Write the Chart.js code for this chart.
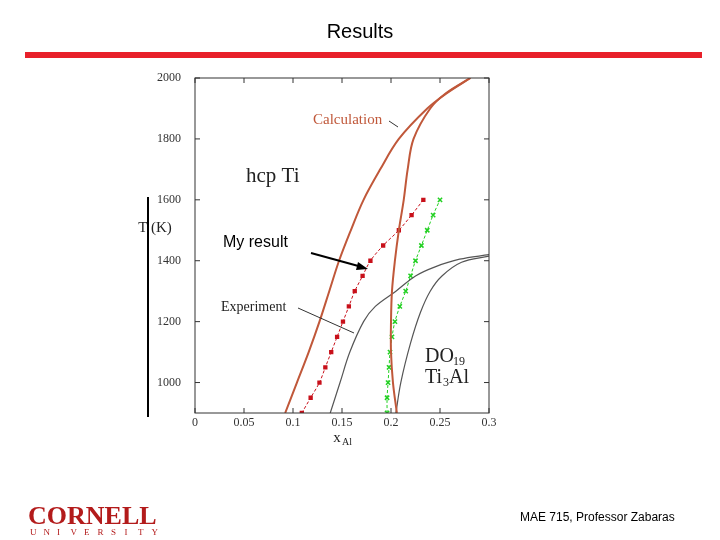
<!DOCTYPE html>
<html><head><meta charset="utf-8">
<script src="https://cdn.jsdelivr.net/npm/chart.js@4"></script>
<style>body{margin:0;background:#fff}#wrap{width:720px;height:540px;position:relative}</style>
</head><body><div id="wrap"><canvas id="c" width="720" height="540"></canvas></div>
<script>
// temperatures (K) and compositions (x_Al)
const calcLeftT = [900, 1000, 1100, 1200, 1300, 1400, 1500, 1600, 1700, 1800, 1900, 1950, 2000];
const calcLeftX = [0.092, 0.104, 0.116, 0.127, 0.137, 0.147, 0.159, 0.172, 0.189, 0.208, 0.237, 0.257, 0.281];
const calcRightT = [900, 1000, 1100, 1200, 1300, 1400, 1500, 1600, 1700, 1800, 1900, 1950, 2000];
const calcRightX = [0.206, 0.202, 0.200, 0.200, 0.201, 0.204, 0.208, 0.213, 0.217, 0.223, 0.240, 0.256, 0.281];
const expAT = [900, 1000, 1100, 1200, 1250, 1300, 1350, 1380, 1405, 1420];
const expAX = [0.138, 0.148, 0.158, 0.172, 0.184, 0.205, 0.225, 0.245, 0.270, 0.300];
const expBT = [900, 1000, 1130, 1230, 1300, 1350, 1395, 1415];
const expBX = [0.205, 0.210, 0.220, 0.230, 0.240, 0.252, 0.272, 0.300];
const myRedT = [900, 950, 1000, 1050, 1100, 1150, 1200, 1250, 1300, 1350, 1400, 1450, 1500, 1550, 1600];
const myRedX = [0.109, 0.118, 0.127, 0.133, 0.139, 0.145, 0.151, 0.157, 0.163, 0.171, 0.179, 0.192, 0.208, 0.221, 0.233];
const myGreenT = [900, 950, 1000, 1050, 1100, 1150, 1200, 1250, 1300, 1350, 1400, 1450, 1500, 1550, 1600];
const myGreenX = [0.196, 0.196, 0.197, 0.198, 0.199, 0.201, 0.204, 0.209, 0.215, 0.220, 0.225, 0.231, 0.237, 0.243, 0.250];
const xTicks = [0, 0.05, 0.1, 0.15, 0.2, 0.25, 0.3];
const yTicks = [1000, 1200, 1400, 1600, 1800, 2000];

const pts = (xs, ts) => xs.map((x, i) => ({x: x, y: ts[i]}));
const brown = '#c0583a';
const serif = '"Liberation Serif", "DejaVu Serif", serif';

function line(xs, ts, color, width) {
  return {data: pts(xs, ts), borderColor: color, borderWidth: width, pointRadius: 0,
    showLine: true, tension: 0.35};
}
function marked(xs, ts, color, style, r) {
  return {data: pts(xs, ts), borderColor: color, backgroundColor: color, borderWidth: 1,
    showLine: true, tension: 0.3, borderDash: [3, 2], pointRadius: r, pointStyle: style,
    pointBorderWidth: 1.5};
}

const slide = {
  id: 'slide',
  afterDraw(chart) {
    const ctx = chart.ctx, a = chart.chartArea;
    const xs = chart.scales.x, ys = chart.scales.y;
    ctx.save();
    // frame and inner ticks
    ctx.strokeStyle = '#333'; ctx.lineWidth = 1;
    ctx.strokeRect(a.left, a.top, a.right - a.left, a.bottom - a.top);
    yTicks.forEach(t => { const y = ys.getPixelForValue(t);
      ctx.beginPath(); ctx.moveTo(a.left, y); ctx.lineTo(a.left + 5, y);
      ctx.moveTo(a.right, y); ctx.lineTo(a.right - 5, y); ctx.stroke(); });
    xTicks.forEach(t => { const x = xs.getPixelForValue(t);
      ctx.beginPath(); ctx.moveTo(x, a.bottom); ctx.lineTo(x, a.bottom - 5);
      ctx.moveTo(x, a.top); ctx.lineTo(x, a.top + 5); ctx.stroke(); });
    // title + red rule
    ctx.fillStyle = '#000'; ctx.textAlign = 'center'; ctx.textBaseline = 'middle';
    ctx.font = '20px "Liberation Sans", Arial, sans-serif';
    ctx.fillText('Results', 360, 32);
    ctx.fillStyle = '#e8202a'; ctx.fillRect(25, 52, 677, 6);
    // axis labels
    ctx.fillStyle = '#222'; ctx.font = '15px ' + serif;
    ctx.fillText('T (K)', 155, 228);
    ctx.fillText('x', 337, 438); ctx.font = '10px ' + serif; ctx.fillText('Al', 347, 442);
    ctx.fillStyle = '#000'; ctx.fillRect(147, 197, 2, 220);
    // annotations
    ctx.textAlign = 'left';
    ctx.fillStyle = brown; ctx.font = '15px ' + serif;
    ctx.fillText('Calculation', 313, 120);
    ctx.strokeStyle = '#333';
    ctx.beginPath(); ctx.moveTo(389, 121); ctx.lineTo(398, 127); ctx.stroke();
    ctx.fillStyle = '#222'; ctx.font = '21px ' + serif;
    ctx.fillText('hcp Ti', 246, 176);
    ctx.font = '14px ' + serif;
    ctx.fillText('Experiment', 221, 307);
    ctx.beginPath(); ctx.moveTo(298, 308); ctx.lineTo(354, 333); ctx.stroke();
    ctx.font = '20px ' + serif;
    ctx.fillText('DO', 425, 357); ctx.fillText('Ti', 425, 378);
    ctx.fillText('Al', 449, 378);
    ctx.font = '12px ' + serif;
    ctx.fillText('19', 453, 362); ctx.fillText('3', 443, 383);
    ctx.fillStyle = '#000'; ctx.font = '16px "Liberation Sans", Arial, sans-serif';
    ctx.fillText('My result', 223, 243);
    ctx.lineWidth = 2; ctx.strokeStyle = '#000';
    ctx.beginPath(); ctx.moveTo(311, 253); ctx.lineTo(362, 267); ctx.stroke();
    ctx.beginPath(); ctx.moveTo(368, 269); ctx.lineTo(358, 262); ctx.lineTo(356, 270); ctx.closePath();
    ctx.fill();
    // footer
    ctx.fillStyle = '#b31b1b'; ctx.font = 'bold 26px ' + serif;
    ctx.fillText('CORNELL', 28, 517);
    ctx.font = '9px ' + serif;
    'UNIVERSITY'.split('').forEach((ch, i) => ctx.fillText(ch, 30 + i * 13.5, 533));
    ctx.fillStyle = '#000'; ctx.font = '12px "Liberation Sans", Arial, sans-serif';
    ctx.fillText('MAE 715, Professor Zabaras', 520, 518);
    ctx.restore();
  }
};

new Chart(document.getElementById('c'), {
  type: 'scatter',
  data: {datasets: [
    line(calcLeftX, calcLeftT, brown, 2),
    line(calcRightX, calcRightT, brown, 2),
    line(expAX, expAT, '#555', 1.2),
    line(expBX, expBT, '#555', 1.2),
    marked(myRedX, myRedT, '#c8101a', 'rect', 2),
    marked(myGreenX, myGreenT, '#22d022', 'crossRot', 3)
  ]},
  options: {
    responsive: false, animation: false, clip: true,
    layout: {padding: {left: 150, right: 231, top: 78, bottom: 87}},
    plugins: {legend: {display: false}, tooltip: {enabled: false}},
    scales: {
      x: {type: 'linear', min: 0, max: 0.3,
        afterBuildTicks: s => { s.ticks = xTicks.map(v => ({value: v})); },
        afterFit: s => { s.height = 40; },
        grid: {display: false}, border: {display: false},
        ticks: {color: '#333', font: {family: serif, size: 12}, padding: -5,
          callback: v => String(+v.toFixed(2))}},
      y: {type: 'linear', min: 900, max: 2000,
        afterBuildTicks: s => { s.ticks = yTicks.map(v => ({value: v})); },
        afterFit: s => { s.width = 45; },
        grid: {display: false}, border: {display: false},
        ticks: {color: '#333', font: {family: serif, size: 12}, padding: 6,
          callback: v => String(v)}}
    }
  },
  plugins: [slide]
});
</script></body></html>
